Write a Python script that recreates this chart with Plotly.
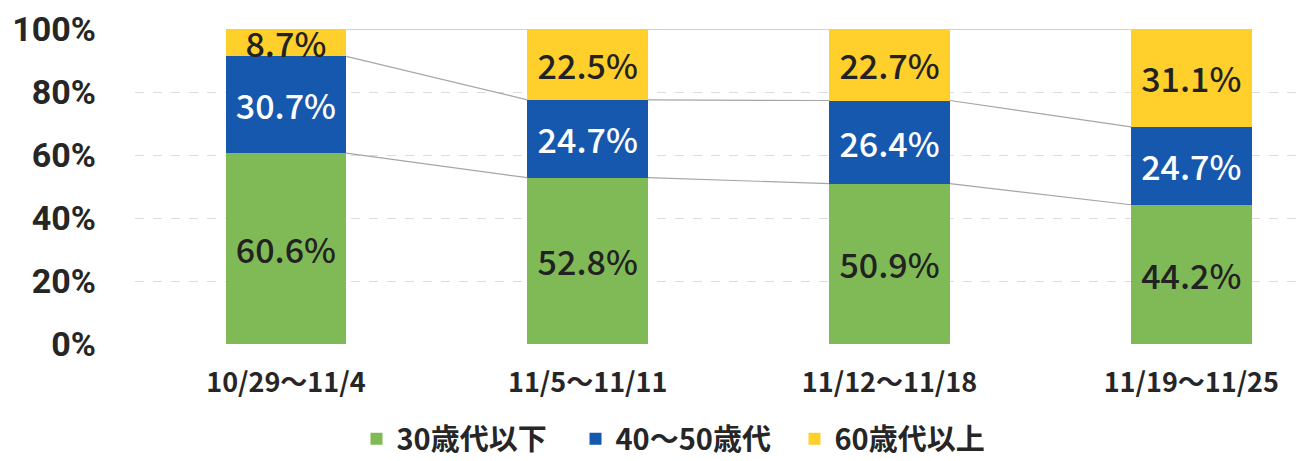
import plotly.graph_objects as go

categories = ["10/29〜11/4", "11/5〜11/11", "11/12〜11/18", "11/19〜11/25"]
under30s = [60.6, 52.8, 50.9, 44.2]
age40_50 = [30.7, 24.7, 26.4, 24.7]
over60 = [8.7, 22.5, 22.7, 31.1]
series_names = ["30歳代以下", "40〜50歳代", "60歳代以上"]
y_ticks = [0, 20, 40, 60, 80, 100]

FONT = "Noto Sans CJK JP"
xs = list(range(len(categories)))
bar_w = 0.4

# page body has an 8px margin, so the figure is drawn 8px smaller
W, H = 1298, 453
L, T, B = 127, 21, 117

fig = go.Figure()
series = [under30s, age40_50, over60]
colors = ["#80ba56", "#1658ad", "#ffd02c"]
txtcolors = ["#222222", "#ffffff", "#222222"]
for name, vals, c, tc in zip(series_names, series, colors, txtcolors):
    fig.add_trace(go.Bar(
        x=xs, y=vals, name=name, width=bar_w,
        marker=dict(color=c, line=dict(width=0)),
        text=[f"{v:.1f}%" for v in vals],
        textposition="inside", insidetextanchor="middle",
        textfont=dict(family=FONT, size=34, color=tc, weight=500),
        hoverinfo="skip",
    ))

# series lines between bars
cum = []
run = [0] * len(xs)
for vals in series:
    run = [a + b for a, b in zip(run, vals)]
    cum.append(run)
for tops in cum:
    lx, ly = [], []
    for i in range(len(xs) - 1):
        lx += [xs[i] + bar_w / 2, xs[i + 1] - bar_w / 2, None]
        ly += [tops[i], tops[i + 1], None]
    fig.add_trace(go.Scatter(x=lx, y=ly, mode="lines", showlegend=False, cliponaxis=False,
                             line=dict(color="#a6a6a6", width=1.2), hoverinfo="skip"))

plot_h = H - T - B
plot_w = W - L
fig.update_layout(
    barmode="stack",
    width=W, height=H,
    margin=dict(l=L, r=0, t=T, b=B, autoexpand=False),
    paper_bgcolor="white", plot_bgcolor="white",
    font=dict(family=FONT, color="#262626"),
    uniformtext=dict(minsize=34, mode="show"),
    legend=dict(orientation="h", x=(677 - L) / plot_w, xanchor="center", yref="paper",
                y=-(431 - (H - B)) / plot_h, yanchor="middle",
                font=dict(family=FONT, size=29, weight="bold", color="#262626"),
                itemwidth=30, entrywidth=174, entrywidthmode="pixels",
                traceorder="normal"),
    showlegend=True,
)
fig.update_xaxes(range=[-0.5, 3.38], tickmode="array", tickvals=xs, ticktext=categories,
                 showgrid=False, zeroline=False, showline=False, automargin=False,
                 tickfont=dict(family=FONT, size=27, weight="bold", color="#262626"),
                 ticklabelstandoff=20)
fig.update_yaxes(range=[0, 100], tickmode="array", tickvals=y_ticks,
                 ticktext=[f"{t}%" for t in y_ticks], automargin=False,
                 ticklabeloverflow="allow",
                 showgrid=True, gridcolor="#dcdcdc", griddash="dash", gridwidth=1,
                 zeroline=False, showline=False,
                 tickfont=dict(family="Roboto", size=34, weight="bold", color="#262626"),
                 ticklabelstandoff=38)

fig.write_html("out.html")
